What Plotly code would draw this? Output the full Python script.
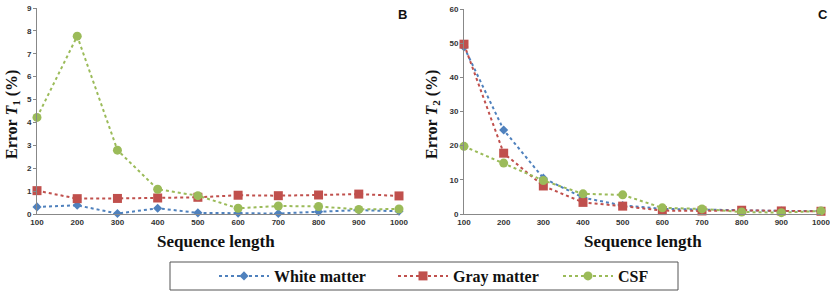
import plotly.graph_objects as go

seq_len = [100, 200, 300, 400, 500, 600, 700, 800, 900, 1000]

t1_white = [0.31, 0.38, 0.02, 0.25, 0.05, 0.04, 0.02, 0.10, 0.17, 0.12]
t1_gray = [1.02, 0.67, 0.68, 0.70, 0.73, 0.82, 0.80, 0.83, 0.87, 0.79]
t1_csf = [4.22, 7.77, 2.79, 1.08, 0.80, 0.25, 0.35, 0.33, 0.20, 0.22]

t2_white = [48.9, 24.6, 10.5, 4.8, 2.5, 1.5, 1.3, 1.0, 0.9, 0.9]
t2_gray = [49.7, 17.8, 8.2, 3.4, 2.3, 1.0, 0.9, 1.1, 0.9, 0.8]
t2_csf = [19.8, 14.9, 9.8, 5.9, 5.6, 1.8, 1.5, 0.6, 0.4, 0.9]

names = ["White matter", "Gray matter", "CSF"]
colors = ["#4F81BD", "#C0504D", "#9BBB59"]
symbols = ["diamond", "square", "circle"]
sizes = [7, 9, 9]

W, H = 830, 295
def px(x):
    return x / W
def py(y):
    return (H - y) / H

legend_ids = ["legend", "legend2", "legend3"]
legend_marker_x = [244, 423, 588]

fig = go.Figure()
for i, (d1, d2) in enumerate([(t1_white, t2_white), (t1_gray, t2_gray), (t1_csf, t2_csf)]):
    fig.add_trace(go.Scatter(x=seq_len, y=d1, mode="lines+markers", name=names[i],
                             line=dict(color=colors[i], width=2, dash="dot"),
                             marker=dict(color=colors[i], symbol=symbols[i], size=sizes[i]),
                             cliponaxis=False, xaxis="x", yaxis="y", legend=legend_ids[i]))
    fig.add_trace(go.Scatter(x=seq_len, y=d2, mode="lines+markers", name=names[i],
                             line=dict(color=colors[i], width=2, dash="dot"),
                             marker=dict(color=colors[i], symbol=symbols[i], size=sizes[i]),
                             cliponaxis=False, showlegend=False, xaxis="x2", yaxis="y2"))

tickfont = dict(family="Liberation Sans", size=8, color="#333", weight="bold")
axcommon = dict(showgrid=False, zeroline=False, showline=True, linecolor="#888", linewidth=1,
                tickfont=tickfont, automargin=False, ticklabeloverflow="allow")

SERIF = "Liberation Serif, Times New Roman, serif"

legend_style = dict(orientation="h", yanchor="middle", y=py(276), xanchor="left",
                    font=dict(family=SERIF, size=16, color="#111", weight="bold"),
                    bgcolor="rgba(0,0,0,0)", itemwidth=50, borderwidth=0)

fig.update_layout(
    width=W, height=H,
    margin=dict(l=0, r=0, t=0, b=0),
    plot_bgcolor="white", paper_bgcolor="white",
    xaxis=dict(domain=[px(37), px(399)], range=[100, 1000], tickvals=seq_len,
               ticks="", anchor="y", **axcommon),
    yaxis=dict(domain=[py(214), py(8)], range=[0, 9], dtick=1, ticks="outside",
               ticklen=3, tickcolor="#888", anchor="x", **axcommon),
    xaxis2=dict(domain=[px(464), px(821)], range=[100, 1000], tickvals=seq_len,
                ticks="", anchor="y2", **axcommon),
    yaxis2=dict(domain=[py(214), py(9)], range=[0, 60], dtick=10, ticks="outside",
                ticklen=3, tickcolor="#888", anchor="x2", **axcommon),
    legend=dict(x=px(legend_marker_x[0] - 30), **legend_style),
    legend2=dict(x=px(legend_marker_x[1] - 30), **legend_style),
    legend3=dict(x=px(legend_marker_x[2] - 30), **legend_style),
    showlegend=True,
)

serif = dict(family=SERIF, size=17, color="#111", weight="bold")
serif_y = dict(family=SERIF, size=16, color="#111", weight="bold")
annotations = [
    dict(text="Error <i>T</i><sub>1</sub> (%)", x=px(13), y=py(115), textangle=-90, font=serif_y),
    dict(text="Error <i>T</i><sub>2</sub> (%)", x=px(433), y=py(115), textangle=-90, font=serif_y),
    dict(text="Sequence length", x=px(216), y=py(241), font=serif),
    dict(text="Sequence length", x=px(643), y=py(241), font=serif),
    dict(text="<b>B</b>", x=px(402), y=py(15), font=dict(family="Liberation Sans", size=13, color="#111")),
    dict(text="<b>C</b>", x=px(823), y=py(14), font=dict(family="Liberation Sans", size=13, color="#111")),
]
for a in annotations:
    a.update(xref="paper", yref="paper", showarrow=False, xanchor="center", yanchor="middle")
fig.update_layout(annotations=annotations)

fig.add_shape(type="rect", xref="paper", yref="paper", x0=px(170), x1=px(678), y0=py(290), y1=py(262),
              line=dict(color="#555", width=1), fillcolor="rgba(0,0,0,0)")

fig.write_html("out.html", config={"displayModeBar": False},
               post_script="document.body.style.margin='0';")
